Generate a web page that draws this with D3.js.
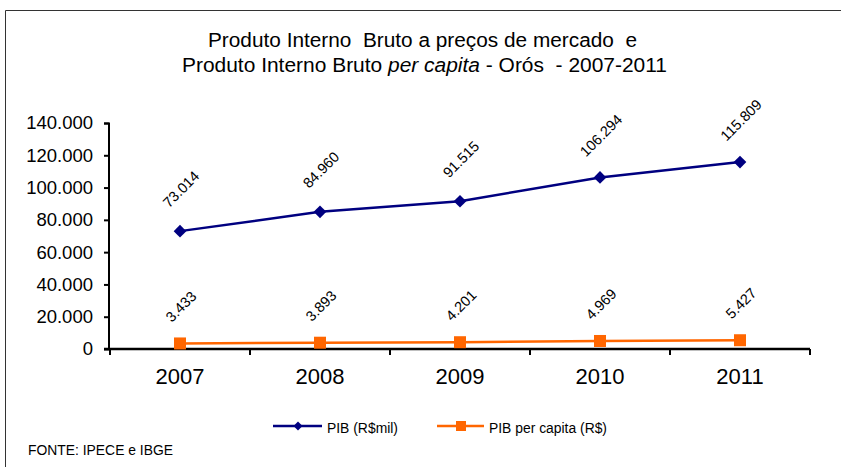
<!DOCTYPE html>
<html><head><meta charset="utf-8">
<script src="https://cdn.jsdelivr.net/npm/d3@7"></script>
<style>body{margin:0;background:#fff}text{font-family:Arial,"Liberation Sans",sans-serif}</style>
</head><body>
<svg id="c" width="841" height="467"></svg>
<script>
const years = ["2007","2008","2009","2010","2011"];
const pib = [73014, 84960, 91515, 106294, 115809];
const pibPerCapita = [3433, 3893, 4201, 4969, 5427];
const yTicks = [0, 20000, 40000, 60000, 80000, 100000, 120000, 140000];
const titleLine1 = "Produto Interno  Bruto a preços de mercado  e";
const titleLine2 = ["Produto Interno Bruto ", "per capita", " - Orós  - 2007-2011"];
const seriesNames = ["PIB (R$mil)", "PIB per capita (R$)"];
const source = "FONTE: IPECE e IBGE";

const svg = d3.select("#c");
const fmt = v => v === 0 ? "0" : d3.format(",.0f")(v).replace(/,/g, ".");

// frame
svg.append("path").attr("d","M5.5,467 L5.5,10.5 L841,10.5").attr("fill","none").attr("stroke","#333").attr("stroke-width",1);

// title
svg.append("text").attr("x",208).attr("y",47).attr("font-size",20).attr("fill","#000")
  .attr("textLength",429).attr("lengthAdjust","spacingAndGlyphs").attr("xml:space","preserve")
  .text(titleLine1);
const t2 = svg.append("text").attr("x",182).attr("y",72).attr("font-size",20).attr("fill","#000")
  .attr("textLength",485).attr("lengthAdjust","spacingAndGlyphs").attr("xml:space","preserve");
t2.append("tspan").text(titleLine2[0]);
t2.append("tspan").attr("font-style","italic").text(titleLine2[1]);
t2.append("tspan").text(titleLine2[2]);

const x = d3.scaleBand().domain(years).range([110, 810]);
const y = d3.scaleLinear().domain([0, 140000]).range([349, 123]);

// y axis
const ya = svg.append("g").attr("transform","translate(109,0)")
  .call(d3.axisLeft(y).tickValues(yTicks).tickFormat(fmt).tickSize(5));
ya.select(".domain").attr("stroke","#000").attr("stroke-width",2).attr("d","M-5,123.5H0V349");
ya.selectAll(".tick line").attr("stroke","#000").attr("stroke-width",2);
ya.selectAll(".tick text").attr("font-size",18.5).attr("fill","#000").attr("font-family","Arial, 'Liberation Sans', sans-serif").attr("x",-16);

// x axis
const xa = svg.append("g").attr("transform","translate(0,349)");
xa.append("line").attr("x1",104).attr("x2",810).attr("y1",0).attr("y2",0).attr("stroke","#000").attr("stroke-width",2.5);
const bounds = years.map(d => x(d)).concat([x(years[years.length-1]) + x.bandwidth()]);
xa.selectAll("line.tk").data(bounds).join("line").attr("class","tk")
  .attr("x1",d=>d).attr("x2",d=>d).attr("y1",0).attr("y2",6).attr("stroke","#000").attr("stroke-width",2);
xa.selectAll("text").data(years).join("text")
  .attr("x",d=>x(d)+x.bandwidth()/2).attr("y",35).attr("text-anchor","middle")
  .attr("font-size",22).attr("fill","#000").text(d=>d);

const cx = d => x(d) + x.bandwidth()/2;
const line = d3.line().x((d,i)=>cx(years[i])).y(d=>y(d));

// PIB series
svg.append("path").datum(pib).attr("d",line).attr("fill","none").attr("stroke","#000080").attr("stroke-width",2.5);
svg.selectAll("path.dia").data(pib).join("path").attr("class","dia")
  .attr("d",d3.symbol(d3.symbolSquare, 80))
  .attr("transform",(d,i)=>`translate(${cx(years[i])},${y(d)}) rotate(45)`).attr("fill","#000080");

// per capita series
svg.append("path").datum(pibPerCapita).attr("d",line).attr("fill","none").attr("stroke","#FF6600").attr("stroke-width",2.5);
svg.selectAll("rect.sq").data(pibPerCapita).join("rect").attr("class","sq")
  .attr("x",(d,i)=>cx(years[i])-6).attr("y",d=>y(d)-6).attr("width",12).attr("height",12).attr("fill","#FF6600");

// labels
function labels(data, off){
  svg.selectAll(null).data(data).join("text")
    .attr("transform",(d,i)=>`translate(${cx(years[i])+1},${y(d)-off}) rotate(-45)`)
    .attr("text-anchor","middle").attr("dy","0.35em").attr("font-size",14.5).attr("fill","#000")
    .text(fmt);
}
labels(pib, 42);
labels(pibPerCapita, 37);

// legend
const lg = svg.append("g").attr("transform","translate(0,426)");
lg.append("line").attr("x1",273).attr("x2",322).attr("stroke","#000080").attr("stroke-width",2.5);
lg.append("path").attr("d",d3.symbol(d3.symbolSquare,40)).attr("transform","translate(298,0) rotate(45)").attr("fill","#000080");
lg.append("text").attr("x",327).attr("y",7).attr("font-size",14).attr("fill","#000")
  .attr("textLength",71).attr("lengthAdjust","spacingAndGlyphs").text(seriesNames[0]);
lg.append("line").attr("x1",437).attr("x2",484).attr("stroke","#FF6600").attr("stroke-width",2.5);
lg.append("rect").attr("x",456).attr("y",-5).attr("width",10).attr("height",10).attr("fill","#FF6600");
lg.append("text").attr("x",489).attr("y",7).attr("font-size",14).attr("fill","#000")
  .attr("textLength",118).attr("lengthAdjust","spacingAndGlyphs").text(seriesNames[1]);

svg.append("text").attr("x",28).attr("y",455).attr("font-size",14).attr("fill","#000")
  .attr("textLength",145).attr("lengthAdjust","spacingAndGlyphs").text(source);
</script>
</body></html>
